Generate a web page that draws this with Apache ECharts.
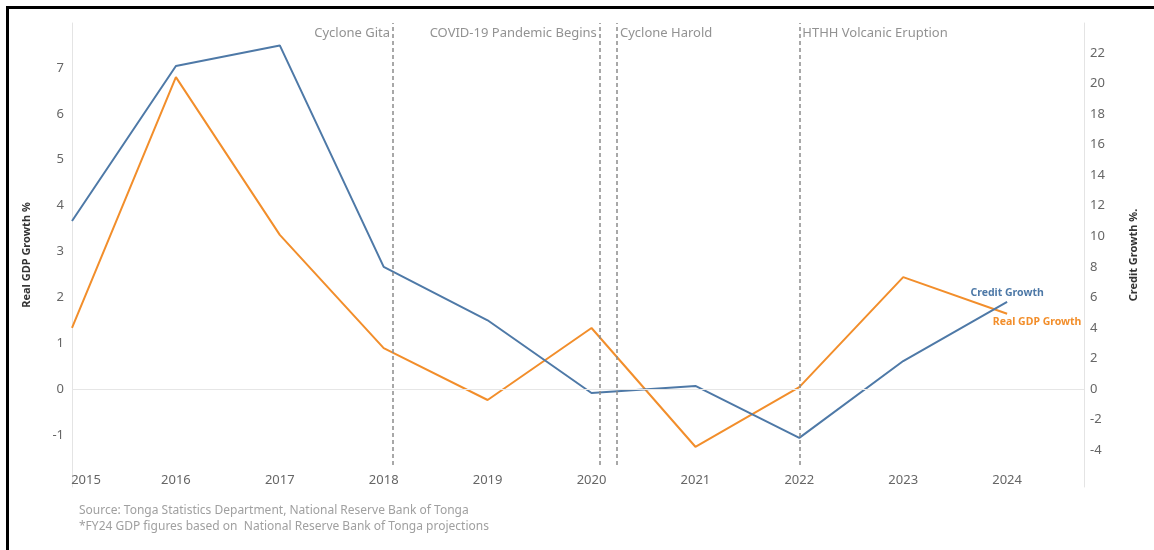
<!DOCTYPE html>
<html>
<head>
<meta charset="utf-8">
<script src="https://cdn.jsdelivr.net/npm/echarts@6/dist/echarts.min.js"></script>
<style>
html,body{margin:0;padding:0;background:#fff;}
#chart{width:1154px;height:550px;}
</style>
</head>
<body>
<div id="chart"></div>
<script>
// ---- data ----
const years = [2015, 2016, 2017, 2018, 2019, 2020, 2021, 2022, 2023, 2024];
const creditGrowth = [11.0, 21.15, 22.5, 8.0, 4.5, -0.26, 0.2, -3.2, 1.83, 5.7];
const realGdpGrowth = [1.33, 6.8, 3.36, 0.89, -0.24, 1.33, -1.26, 0.04, 2.44, 1.64];
const leftTicks = [-1, 0, 1, 2, 3, 4, 5, 6, 7];
const rightTicks = [-4, -2, 0, 2, 4, 6, 8, 10, 12, 14, 16, 18, 20, 22];
const eventNames = ['Cyclone Gita', 'COVID-19 Pandemic Begins', 'Cyclone Harold', 'HTHH Volcanic Eruption'];
const eventDates = [2018.09, 2020.08, 2020.245, 2022.0];
const footerLines = [
  'Source: Tonga Statistics Department, National Reserve Bank of Tonga',
  '*FY24 GDP figures based on  National Reserve Bank of Tonga projections'
];

// ---- chart ----
const FONT = 'Noto Sans';
const BLUE = '#4e79a7';
const ORANGE = '#f28e2b';
const eventSide = ['left', 'left', 'right', 'right'];
const lineBottom = -1.657, lineTop = 7.98, labelY = 7.76;

const chart = echarts.init(document.getElementById('chart'));

const option = {
  animation: false,
  backgroundColor: '#fff',
  textStyle: { fontFamily: FONT },
  title: {
    text: footerLines.join('\n'),
    left: 74, top: 498,
    textStyle: { fontFamily: FONT, fontSize: 12, fontWeight: 'normal', color: '#a0a0a0', lineHeight: 16 }
  },
  grid: { left: 72, right: 70, top: 23, bottom: 63 },
  xAxis: {
    type: 'value',
    min: 2015, max: 2024.74,
    axisLine: { show: false },
    axisTick: { show: false },
    splitLine: { show: false },
    axisLabel: {
      customValues: years,
      inside: true, margin: 0,
      color: '#666', fontSize: 13, fontFamily: FONT,
      formatter: v => v === 2015 ? '{first|2015}' : String(v),
      rich: { first: { padding: [0, 0, 0, 28], color: '#666', fontSize: 13, fontFamily: FONT } }
    }
  },
  yAxis: [
    {
      type: 'value', position: 'left',
      min: -2.137, max: 7.98,
      name: 'Real GDP Growth %', nameLocation: 'middle', nameGap: 40, nameRotate: 90,
      nameTextStyle: { fontFamily: FONT, fontSize: 11, fontWeight: 'bold', color: '#333' },
      axisLine: { show: true, lineStyle: { color: '#e4e4e4', width: 1 } },
      axisTick: { show: false },
      splitLine: { show: false },
      axisLabel: { customValues: leftTicks, color: '#666', fontSize: 13, fontFamily: FONT, margin: 8 }
    },
    {
      type: 'value', position: 'right',
      min: -6.418, max: 23.97,
      name: 'Credit Growth %.', nameLocation: 'middle', nameGap: 44, nameRotate: 90,
      nameTextStyle: { fontFamily: FONT, fontSize: 11, fontWeight: 'bold', color: '#333' },
      axisLine: { show: true, lineStyle: { color: '#e4e4e4', width: 1 } },
      axisTick: { show: false },
      splitLine: { show: false },
      axisLabel: { customValues: rightTicks, color: '#666', fontSize: 13, fontFamily: FONT, margin: 6 }
    }
  ],
  series: [
    {
      name: 'Real GDP Growth', type: 'line', yAxisIndex: 0,
      data: years.map((y, i) => [y, realGdpGrowth[i]]),
      showSymbol: false,
      lineStyle: { color: ORANGE, width: 2 }, itemStyle: { color: ORANGE },
      z: 3,
      endLabel: {
        show: true, formatter: 'Real GDP Growth', distance: 0,
        align: 'center', verticalAlign: 'top', offset: [30, 3],
        color: ORANGE, fontWeight: 'bold', fontSize: 10.5, fontFamily: FONT
      },
      markLine: {
        silent: true, symbol: 'none', label: { show: false },
        data: [
          { yAxis: 0, lineStyle: { color: '#e6e6e6', type: 'solid', width: 1 } },
          ...eventDates.map(d => [
            { coord: [d, lineBottom], lineStyle: { color: '#8c8c8c', type: [4, 3], width: 1.5 } },
            { coord: [d, lineTop] }
          ])
        ]
      }
    },
    {
      name: 'Credit Growth', type: 'line', yAxisIndex: 1,
      data: years.map((y, i) => [y, creditGrowth[i]]),
      showSymbol: false,
      lineStyle: { color: BLUE, width: 2 }, itemStyle: { color: BLUE },
      z: 4,
      endLabel: {
        show: true, formatter: 'Credit Growth', distance: 0,
        align: 'center', verticalAlign: 'bottom', offset: [0, -3],
        color: BLUE, fontWeight: 'bold', fontSize: 10.5, fontFamily: FONT
      }
    },
    {
      name: 'events', type: 'scatter', yAxisIndex: 0,
      symbolSize: 0, silent: true,
      data: eventDates.map((d, i) => ({
        value: [d, labelY],
        label: { position: eventSide[i] }
      })),
      label: {
        show: true, distance: 3,
        formatter: p => eventNames[p.dataIndex],
        color: '#777', fontSize: 13, fontFamily: FONT
      }
    }
  ],
  graphic: [
    { type: 'line', shape: { x1: 6, y1: 7.5, x2: 1154, y2: 7.5 }, style: { stroke: '#000', lineWidth: 3 } },
    { type: 'line', shape: { x1: 7.5, y1: 6, x2: 7.5, y2: 550 }, style: { stroke: '#000', lineWidth: 3 } }
  ]
};
chart.setOption(option);
</script>
</body>
</html>
